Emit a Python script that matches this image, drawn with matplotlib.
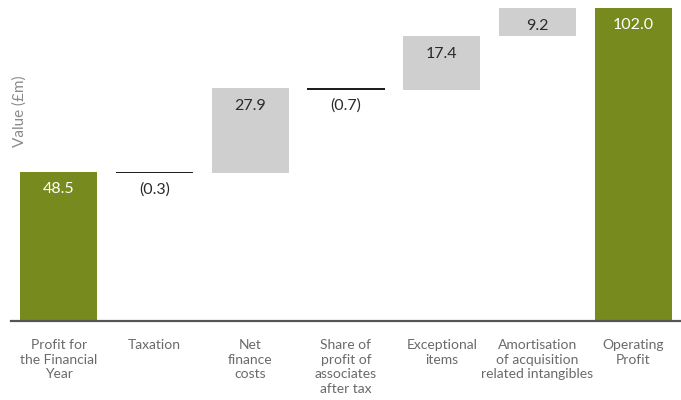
"""
Waterfall: bridge from profit for the financial year to operating profit.
"""

import matplotlib
matplotlib.use("Agg")
import matplotlib.pyplot as plt
import numpy as np

GREEN = "#778A1E"
LIGHT = "#CFCFCF"
DARK = "#1E1E1E"
TEXT = "#6A6A6A"

categories = [
    "Profit for\nthe Financial\nYear",
    "Taxation",
    "Net\nfinance\ncosts",
    "Share of\nprofit of\nassociates\nafter tax",
    "Exceptional\nitems",
    "Amortisation\nof acquisition\nrelated intangibles",
    "Operating\nProfit",
]
values = [48.5, -0.3, 27.9, -0.7, 17.4, 9.2, 102.0]
kinds = ["total", "step", "step", "step", "step", "step", "total"]

plt.rcParams["font.family"] = ["Lato", "DejaVu Sans"]

fig = plt.figure(figsize=(6.81, 4.0), dpi=100)
ax = fig.add_axes([11 / 681, 79 / 400, 670 / 681, 316 / 400])

x = np.arange(len(categories))
running = 0.0
for i, (v, kind) in enumerate(zip(values, kinds)):
    if kind == "total":
        bottom, height, color = 0.0, v, GREEN
        running = v
    elif v >= 0:
        bottom, height, color = running, v, LIGHT
        running += v
    else:
        bottom, height, color = running + v, -v, DARK
        running += v
    ax.bar(x[i], height, bottom=bottom, width=0.805, color=color, linewidth=0)

    if kind == "total":
        label, tcol, ypos, off = f"{v:.1f}", "white", bottom + height, -17
    elif v >= 0:
        label, tcol, ypos, off = f"{v:.1f}", "#2A2A2A", bottom + height, -18
    else:
        label, tcol, ypos, off = f"({-v:.1f})", "#2A2A2A", bottom, -16
    ax.annotate(label, (x[i], ypos), xytext=(0, off), textcoords="offset pixels",
                ha="center", va="center", fontsize=11.5, color=tcol)

ax.axhline(0, xmin=0.0, xmax=1, color="#555555", lw=1.6, clip_on=False)
ax.set_xlim(-0.5, 6.5)
ax.set_ylim(0, 103)
ax.set_yticks([])
ax.set_xticks(x)
ax.set_xticklabels(categories, fontsize=10, color=TEXT, linespacing=1.25)
ax.tick_params(axis="x", length=0, pad=13)
for s in ax.spines.values():
    s.set_visible(False)

fig.text(20 / 681, 1 - 111 / 400, "Value (£m)", rotation=90, ha="center",
         va="center", fontsize=11, color="#8A8A8A")

fig.savefig("out.png", dpi=100)
